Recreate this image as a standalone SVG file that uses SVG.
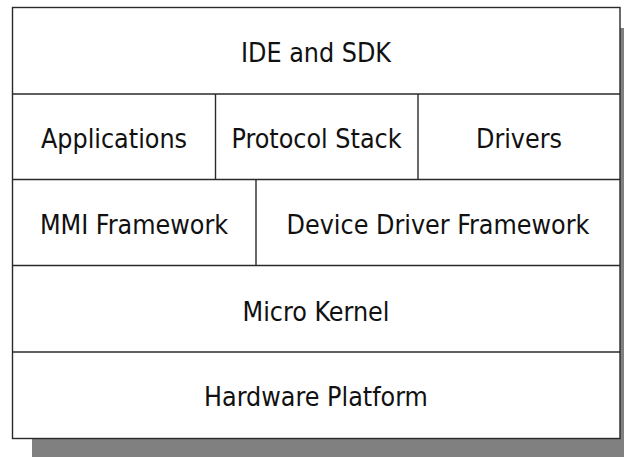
<svg xmlns="http://www.w3.org/2000/svg" width="626" height="457" viewBox="0 0 626 457">
<style>
.box{fill:#ffffff;stroke:#2a2a2a;stroke-width:1.4}
.div{stroke:#2a2a2a;stroke-width:1.4;fill:none}
text{font-family:"DejaVu Sans Condensed","DejaVu Sans",sans-serif;font-size:26.6px;fill:#111;text-anchor:middle}
</style>
<rect x="32" y="28" width="592" height="440" fill="#808080"/>
<g id="frame"><rect class="box" x="12.5" y="7.5" width="607.5" height="431"/></g>
<g id="connectors">
<line class="div" x1="12.5" y1="94" x2="620" y2="94"/>
<line class="div" x1="12.5" y1="179.5" x2="620" y2="179.5"/>
<line class="div" x1="12.5" y1="265.5" x2="620" y2="265.5"/>
<line class="div" x1="12.5" y1="352" x2="620" y2="352"/>
<line class="div" x1="215.5" y1="94" x2="215.5" y2="179.5"/>
<line class="div" x1="418" y1="94" x2="418" y2="179.5"/>
<line class="div" x1="256" y1="179.5" x2="256" y2="265.5"/>
</g>
<g id="ide"><text x="316" y="62.3">IDE and SDK</text></g>
<g id="applications"><text x="114" y="148.3">Applications</text></g>
<g id="protocol"><text x="316.5" y="148.3">Protocol Stack</text></g>
<g id="drivers"><text x="519" y="148.3">Drivers</text></g>
<g id="mmi"><text x="134" y="234.3">MMI Framework</text></g>
<g id="ddf"><text x="438" y="234.3">Device Driver Framework</text></g>
<g id="kernel"><text x="316" y="320.5">Micro Kernel</text></g>
<g id="hardware"><text x="316" y="405.5">Hardware Platform</text></g>
</svg>
